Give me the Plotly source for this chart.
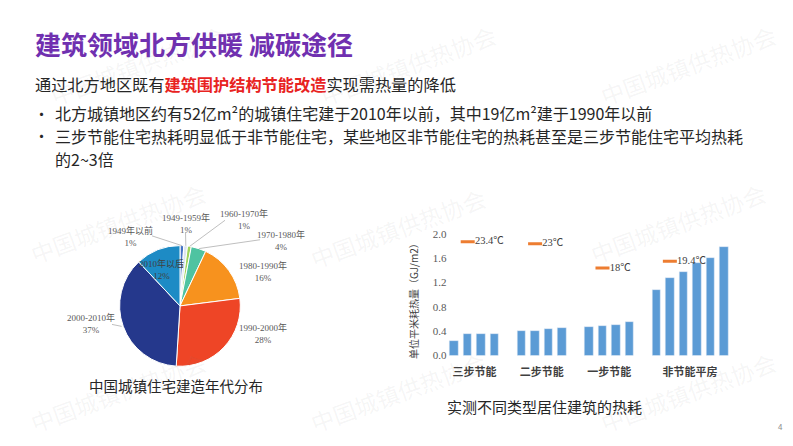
import math
import plotly.graph_objects as go

W, H = 793, 446

# ---------------- data ----------------
era_labels = ["1949年以前", "1949-1959年", "1960-1970年", "1970-1980年",
              "1980-1990年", "1990-2000年", "2000-2010年", "2010年以后"]
era_share = [1, 1, 1, 4, 16, 28, 37, 12]
era_colors = ["#4472c4", "#dde4ee", "#9fd45b", "#4fc3a1",
              "#f7921e", "#ee4526", "#25388c", "#1d8bc5"]

group_names = ["三步节能", "二步节能", "一步节能", "非节能平房"]
heat_step3 = [0.24, 0.35, 0.35, 0.36]
heat_step2 = [0.40, 0.41, 0.43, 0.46]
heat_step1 = [0.47, 0.49, 0.50, 0.56]
heat_none = [1.08, 1.27, 1.37, 1.53, 1.61, 1.78]
indoor_temp = [23.4, 23, 18, 19.4]
y_ticks = [0.0, 0.4, 0.8, 1.2, 1.6, 2.0]

title_text = "建筑领域北方供暖 减碳途径"
body_lines = ["北方城镇地区约有52亿m²的城镇住宅建于2010年以前，其中19亿m²建于1990年以前",
              "三步节能住宅热耗明显低于非节能住宅，某些地区非节能住宅的热耗甚至是三步节能住宅平均热耗",
              "的2~3倍"]
body_bullet = [True, True, False]

CJK = "Noto Sans CJK SC"
SERIF = "Liberation Serif, Noto Sans CJK SC"


def px(x):
    return x / W


def py(y):
    return 1 - y / H


fig = go.Figure()

# ---------------- pie ----------------
pie_cx, pie_cy, pie_r = 172, 300, 62
fig.add_trace(go.Pie(
    labels=era_labels, values=era_share, sort=False, direction="clockwise",
    rotation=0, marker=dict(colors=era_colors, line=dict(color="white", width=1)),
    textinfo="none", hoverinfo="label+percent", showlegend=False,
    domain=dict(x=[px(pie_cx - pie_r), px(pie_cx + pie_r)],
                y=[py(pie_cy + pie_r), py(pie_cy - pie_r)]),
))

# label positions (px) and leader-line starts (None = no leader)
label_pos = [(123, 229), (178, 215.5), (236.5, 211), (272.5, 233),
             (255, 265), (255, 328), (82.5, 318.5), (153.5, 263)]
leader_start = [(144, 228), (177.5, 224), (217, 212), (252, 232),
                None, None, (104, 319), None]
total = sum(era_share)
cum = 0
annotations = []
shapes = []
for lab, v, (lx, ly), ls in zip(era_labels, era_share, label_pos, leader_start):
    mid = (cum + v / 2) / total * 2 * math.pi
    cum += v
    ex = pie_cx + pie_r * math.sin(mid)
    ey = pie_cy - pie_r * math.cos(mid)
    annotations.append(dict(
        text=f"{lab}<br>{v}%", x=px(lx), y=py(ly),
        xanchor="center", yanchor="middle",
        font=dict(family=SERIF, size=9, color="#404040" if lab == "2010年以后" else "#595959"),
    ))
    if ls is not None:
        shapes.append(dict(type="line", xref="paper", yref="paper",
                           x0=px(ls[0]), y0=py(ls[1]), x1=px(ex), y1=py(ey),
                           line=dict(color="#bfbfbf", width=1)))

# ---------------- bars ----------------
groups = [heat_step3, heat_step2, heat_step1, heat_none]
bx, by, centers, temp_x = [], [], [], []
pos = 0
for g in groups:
    xs = list(range(pos, pos + len(g)))
    bx += xs
    by += g
    centers.append((xs[0] + xs[-1]) / 2)
    temp_x.append(xs[1])
    pos += len(g) + 1

fig.add_trace(go.Bar(x=bx, y=by, marker=dict(color="#5b9bd5"), width=0.63,
                     showlegend=False, xaxis="x", yaxis="y", hoverinfo="y"))
fig.add_trace(go.Scatter(
    x=temp_x, y=indoor_temp, mode="markers+text", xaxis="x", yaxis="y2",
    marker=dict(symbol="line-ew", size=10, line=dict(color="#ed7d31", width=3), color="#ed7d31"),
    text=[f"{t:g}℃" for t in indoor_temp], textposition="middle right",
    textfont=dict(family=SERIF, size=10.5, color="#404040"), showlegend=False,
))

# ---------------- text ----------------
annotations += [
    dict(text=f"<b>{title_text}</b>", x=px(25), y=py(30), xanchor="left", yanchor="middle",
         font=dict(family=CJK, size=26, color="#7030b0")),
    dict(text="通过北方地区既有<span style='color:#e8231f'><b>建筑围护结构节能改造</b></span>实现需热量的降低",
         x=px(25), y=py(72), xanchor="left", yanchor="middle",
         font=dict(family=CJK, size=16.2, color="#262626")),
]
for txt, bul, yy in zip(body_lines, body_bullet, [102, 125.3, 148.6]):
    if bul:
        annotations.append(dict(text="•", x=px(33), y=py(yy), xanchor="center", yanchor="middle",
                                font=dict(family=CJK, size=15, color="#262626")))
    annotations.append(dict(text=txt, x=px(45), y=py(yy), xanchor="left", yanchor="middle",
                            font=dict(family=CJK, size=16, color="#262626")))

annotations += [
    dict(text="中国城镇住宅建造年代分布", x=px(168), y=py(382), xanchor="center", yanchor="middle",
         font=dict(family=CJK, size=14.5, color="#262626")),
    dict(text="实测不同类型居住建筑的热耗", x=px(536), y=py(403), xanchor="center", yanchor="middle",
         font=dict(family=CJK, size=15, color="#262626")),
    dict(text="单位平米耗热量（GJ/m2）", x=px(405), y=py(293), xanchor="center", yanchor="middle",
         textangle=-90, font=dict(family=CJK, size=10, color="#404040")),
    dict(text="4", x=px(772), y=py(424), xanchor="center", yanchor="middle",
         font=dict(family=CJK, size=8, color="#8c8c8c")),
]
# faint diagonal watermark
for x_, y_ in [(130, 52), (400, 52), (680, 52), (110, 215), (390, 220), (670, 215),
               (110, 388), (390, 388), (680, 388)]:
    annotations.append(dict(text="中国城镇供热协会", x=px(x_), y=py(y_), xanchor="center",
                            yanchor="middle", textangle=-20,
                            font=dict(family=CJK, size=23, color="rgba(120,120,120,0.07)")))

for a in annotations:
    a.setdefault("xref", "paper")
    a.setdefault("yref", "paper")
    a.setdefault("showarrow", False)

fig.update_layout(
    width=W, height=H, margin=dict(l=0, r=0, t=0, b=0),
    paper_bgcolor="white", plot_bgcolor="white",
    annotations=annotations, shapes=shapes, bargap=0,
    xaxis=dict(domain=[px(439.5), px(722.5)], range=[-0.5, pos - 1.5],
               tickvals=centers, ticktext=group_names, showgrid=False, zeroline=False,
               showline=False, ticks="", ticklabelstandoff=8,
               tickfont=dict(family=CJK, size=11, color="#404040", weight="bold")),
    yaxis=dict(domain=[py(351), py(226)], range=[0, 2.0], tickvals=y_ticks,
               tickformat=".1f", showgrid=False, zeroline=False, showline=False,
               tickfont=dict(family=SERIF, size=11, color="#595959")),
    yaxis2=dict(overlaying="y", range=[0, 25], visible=False),
)

fig.write_html("out.html")
